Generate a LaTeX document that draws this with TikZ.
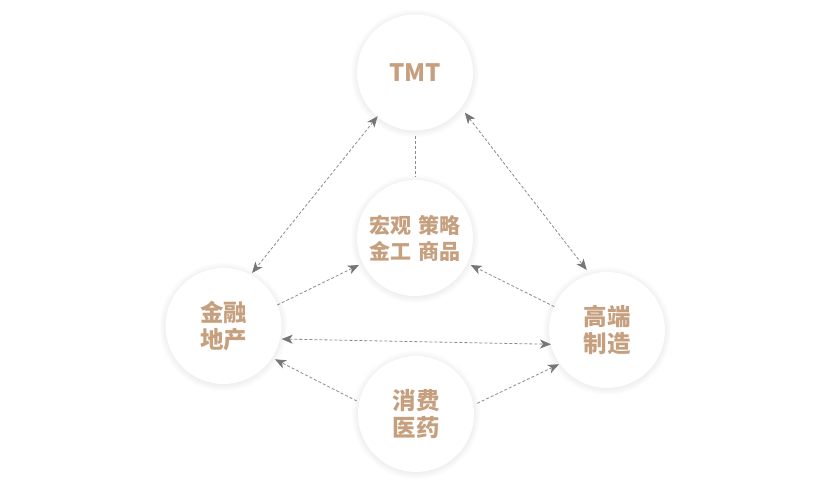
\documentclass[tikz,border=0pt]{standalone}
\usepackage{fontspec}
\newfontfamily\cjk{Noto Sans CJK SC}
\usetikzlibrary{arrows.meta}
\definecolor{tanc}{RGB}{198,160,126}
\definecolor{lnc}{RGB}{140,140,140}
\definecolor{tipc}{RGB}{118,118,118}
\pgfdeclarelayer{background}
\pgfsetlayers{background,main}
\tikzset{ah/.tip={Stealth[length=11pt,width=9pt,inset=3pt,color=tipc]}}
\begin{document}
\begin{tikzpicture}[x=1pt,y=-1pt,
  ball/.style={circle,fill=white,minimum size=116pt,inner sep=0pt,text=tanc,
    font=\cjk\bfseries\fontsize{23.5}{27}\selectfont,align=center},
  midball/.style={ball,font=\cjk\bfseries\fontsize{21}{26}\selectfont},
  link/.style={draw=lnc,line width=0.8pt,dash pattern=on 3pt off 2pt}]
\useasboundingbox (0,0) rectangle (830,496);
\node[ball,font=\cjk\bfseries\fontsize{24}{27}\selectfont] (tmt) at (415,72.5) {TMT};
\node[midball] (mid) at (415,238) {宏观\hspace{0.3em}策略\\金工\hspace{0.3em}商品};
\node[ball] (lft) at (223.5,326) {金融\\地产};
\node[ball] (rgt) at (607,330) {高端\\制造};
\node[ball] (bot) at (416,414) {消费\\医药};
\begin{pgfonlayer}{background}
\fill[white] (0,0) rectangle (830,496);
\foreach \n in {tmt,mid,lft,rgt,bot}{
  \foreach \k in {1,...,8}{
    \fill[black,opacity=0.009] ([yshift=-1pt]\n.center) circle[radius={57pt+0.9pt*\k}];
  }
}
\end{pgfonlayer}
\draw[link,ah-ah] ([shift={(-130.5:57.5pt)}]tmt.center) -- ([shift={(61.7:60.2pt)}]lft.center);
\draw[link,ah-ah] ([shift={(-38.8:64pt)}]tmt.center) -- ([shift={(108.7:63.3pt)}]rgt.center);
\draw[link] ([yshift=-5pt]tmt.south) -- ([yshift=3pt]mid.north);
\draw[link,-ah] ([shift={(21.3:57.8pt)}]lft.center) -- ([shift={(-154.3:62.2pt)}]mid.center);
\draw[link,-ah] ([shift={(156.1:57.6pt)}]rgt.center) -- ([shift={(-25.9:61.9pt)}]mid.center);
\draw[link,ah-ah] ([shift={(-12.6:59.6pt)}]lft.center) -- ([shift={(-165.7:57.8pt)}]rgt.center);
\draw[link,-ah] ([shift={(167.6:60.7pt)}]bot.center) -- ([shift={(-32.9:61.3pt)}]lft.center);
\draw[link,-ah] ([shift={(9.9:62.2pt)}]bot.center) -- ([shift={(-144.5:59pt)}]rgt.center);
\end{tikzpicture}
\end{document}
